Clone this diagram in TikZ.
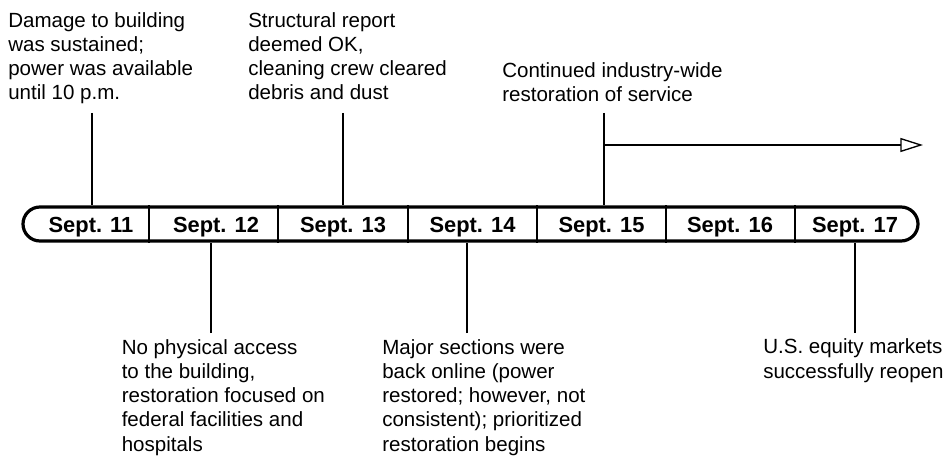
\documentclass[tikz,border=0pt]{standalone}
\usepackage{fontspec}
\setmainfont{Liberation Sans}
\usetikzlibrary{arrows.meta}
\begin{document}
\begin{tikzpicture}[x=0.75pt,y=-0.75pt,
  lbl/.style={font=\fontsize{15.4}{18.1}\selectfont, align=left, anchor=base west, inner sep=0pt},
  day/.style={font=\bfseries\fontsize{16.4}{18}\selectfont, inner sep=0pt, anchor=base},
  conn/.style={line width=1pt},
  divider/.style={line width=1.5pt},
  barbox/.style={draw, line width=2.4pt, rounded corners=12.75pt, minimum width=671.25pt, minimum height=25.5pt, inner sep=0pt}]
\useasboundingbox (0,0) rectangle (944,456);
% timeline bar
\node[barbox] (bar) at (470.5,224) {};
\foreach \x in {149,278,408,537,666,795}
  \draw[divider] (bar.north -| \x,0) -- (bar.south -| \x,0);
\node[day] (d11) at (91,232) {Sept. 11};
\node[day] (d12) at (216,232) {Sept. 12};
\node[day] (d13) at (343,232) {Sept. 13};
\node[day] (d14) at (472.5,232) {Sept. 14};
\node[day] (d15) at (601.5,232) {Sept. 15};
\node[day] (d16) at (730,232) {Sept. 16};
\node[day] (d17) at (855,232) {Sept. 17};
% top texts (anchor = baseline of last line)
\node[lbl] (t11) at (8,100) {Damage to building\\was sustained;\\power was available\\until 10 p.m.};
\node[lbl] (t13) at (248,100) {Structural report\\deemed OK,\\cleaning crew cleared\\debris and dust};
\node[lbl] (t15) at (502,102) {Continued industry-wide\\restoration of service};
% bottom texts
\node[lbl] (t12) at (121.5,451) {No physical access\\to the building,\\restoration focused on\\federal facilities and\\hospitals};
\node[lbl] (t14) at (382,451) {Major sections were\\back online (power\\restored; however, not\\consistent); prioritized\\restoration begins};
\node[lbl] (t17) at (763,378) {U.S. equity markets\\successfully reopen};
% connectors
\coordinate (c11) at (92,113);
\coordinate (c13) at (343,113);
\coordinate (c15) at (604,113);
\coordinate (c12) at (211,333);
\coordinate (c14) at (467,333);
\coordinate (c17) at (855,333);
\draw[conn] (c11) -- (c11 |- bar.north);
\draw[conn] (c13) -- (c13 |- bar.north);
\draw[conn] (c15) -- (c15 |- bar.north);
\draw[conn] (c12) -- (c12 |- bar.south);
\draw[conn] (c14) -- (c14 |- bar.south);
\draw[conn] (c17) -- (c17 |- bar.south);
% continuation arrow
\coordinate (arrstart) at (604,145);
\coordinate (arrend) at (923,145);
\draw[conn, -{Triangle[open, length=17pt, width=10.5pt]}] (arrstart) -- (arrend);
\end{tikzpicture}
\end{document}
